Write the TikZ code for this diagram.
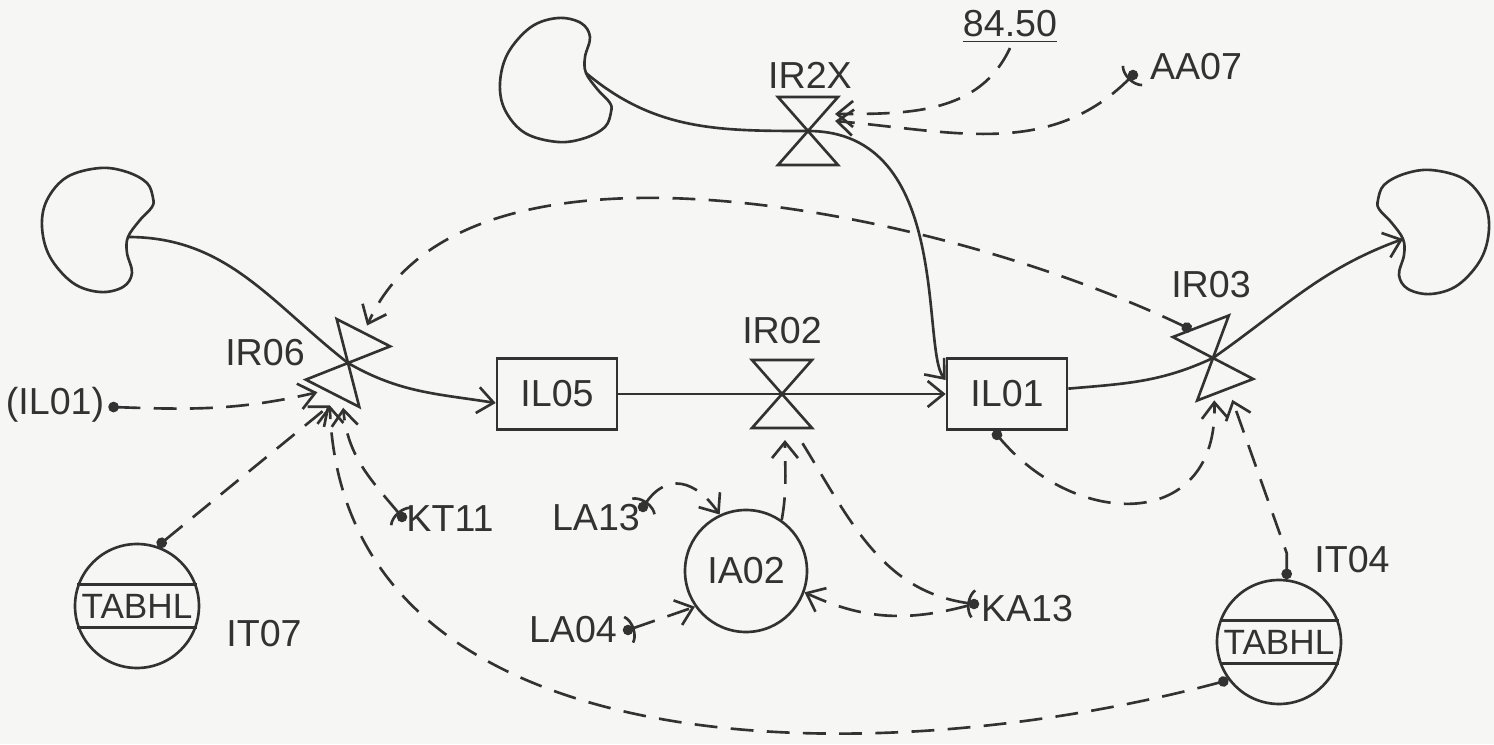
\documentclass[tikz,border=0pt]{standalone}
\usepackage{fontspec}
\setmainfont{Liberation Sans}
\usetikzlibrary{arrows.meta,positioning}
\definecolor{Ink}{RGB}{50,50,50}
\definecolor{Paper}{RGB}{246,246,244}
\tikzset{
  lbl/.style={font=\fontsize{10.7}{12}\selectfont,text=Ink,inner sep=1pt},
  level/.style={lbl,draw=Ink,line width=0.75pt,minimum width=1.2cm,minimum height=0.71cm},
  aux/.style={lbl,circle,draw=Ink,line width=0.75pt,minimum size=1.22cm,inner sep=0pt},
  tabhl/.style={aux,minimum size=1.24cm,font=\fontsize{10}{12}\selectfont},
  srcdot/.style={circle,fill=Ink,inner sep=0pt,minimum size=3pt},
  flow/.style={draw=Ink,line width=0.75pt,-{Straight Barb[length=1.6mm,width=2.6mm]}},
  info/.style={flow,dash pattern=on 6.5pt off 3.8pt},
  fromdot/.style={info,{Circle[length=3pt]}-{Straight Barb[length=1.6mm,width=2.6mm]}},
  fromconst/.style={info,{Parenthesis[reversed,width=3.4mm,length=1.1mm]}-{Straight Barb[length=1.6mm,width=2.6mm]}},
  valvesym/.pic={
    \draw[draw=Ink,line width=0.75pt] (-0.3,0.34) -- (0.3,0.34) -- (-0.3,-0.34) -- (0.3,-0.34) -- cycle;
    \coordinate (-c) at (0,0);
    \coordinate (-t) at (0,0.42);
    \coordinate (-tl) at (-0.1,0.34);
    \coordinate (-b) at (0.03,-0.46);
    \coordinate (-bl) at (-0.14,-0.4);
    \coordinate (-br) at (0.16,-0.42);
    \coordinate (-r) at (0.27,0.1);
    \coordinate (-rt) at (0.27,0.17);
  },
  cloudsym/.pic={
    \draw[draw=Ink,line width=0.75pt] plot[smooth cycle,tension=0.6] coordinates {(0.56,0.32) (0.5,0.47) (0.3,0.58) (0.03,0.62) (-0.3,0.53) (-0.5,0.3) (-0.55,0.03) (-0.47,-0.27) (-0.24,-0.53) (0.03,-0.62) (0.26,-0.57) (0.35,-0.43) (0.3,-0.23) (0.31,-0.07) (0.43,0.1) (0.55,0.23)};
    \coordinate (-n) at (0.31,-0.07);
  }
}

\begin{document}
\begin{tikzpicture}[x=1cm,y=1cm]
\fill[Paper] (0,0) rectangle (14.94,7.44);
\useasboundingbox (0,0) rectangle (14.94,7.44);

% sources and sinks
\pic (cl) at (0.97,5.14) {cloudsym};
\pic[yscale=-1] (ct) at (5.55,6.64) {cloudsym};
\pic[xscale=-1] (cr) at (14.34,5.12) {cloudsym};

% rates
\pic[rotate=-27] (ir06) at (3.48,3.81) {valvesym};
\pic (ir2x) at (8.08,6.13) {valvesym};
\pic (ir02) at (7.82,3.50) {valvesym};
\pic[rotate=21] (ir03) at (12.13,3.86) {valvesym};
\node[lbl] (ir06l) at (2.65,3.91) {IR06};
\node[lbl] (ir2xl) at (8.10,6.69) {IR2X};
\node[lbl] (ir02l) at (7.82,4.13) {IR02};
\node[lbl] (ir03l) at (12.11,4.59) {IR03};

% levels and auxiliaries
\node[level] (il05) at (5.57,3.50) {IL05};
\node[level] (il01) at (10.07,3.50) {IL01};
\node[aux] (ia02) at (7.46,1.73) {IA02};
\node[tabhl] (it07) at (1.37,1.38) {TABHL};
\node[tabhl] (it04) at (12.79,1.02) {TABHL};
\draw[Ink,line width=0.75pt] (it07.160) -- (it07.20) (it07.200) -- (it07.340);
\draw[Ink,line width=0.75pt] (it04.160) -- (it04.20) (it04.200) -- (it04.340);
\node[lbl] (it07l) at (2.64,1.10) {IT07};
\node[lbl] (it04l) at (13.52,1.84) {IT04};

% constants
\node[lbl] (il01ref) at (0.55,3.39) {(IL01)};
\node[lbl] (kt11) at (4.50,2.25) {KT11};
\node[lbl] (la13) at (5.96,2.26) {LA13};
\node[lbl] (la04) at (5.73,1.14) {LA04};
\node[lbl] (ka13) at (10.27,1.35) {KA13};
\node[lbl] (v8450) at (10.10,7.17) {\underline{84.50}};
\node[lbl] (aa07) at (11.96,6.77) {AA07};
\node[srcdot] (kt11m) at (4.02,2.27) {};
\node[srcdot] (la13m) at (6.43,2.37) {};
\node[srcdot] (la04m) at (6.28,1.14) {};
\node[srcdot] (ka13m) at (9.74,1.40) {};
\node[srcdot] (aa07m) at (11.33,6.69) {};

% flows
\draw[flow] (cl-n) to[out=0,in=142] (ir06-c) to[out=-30,in=171] ([yshift=-0.9mm]il05.west);
\draw[flow] (il05) -- (il01);
\draw[flow] (ct-n) to[out=-40,in=180] (ir2x-c) .. controls +(1.45,0) and +(-0.25,0.3) .. ([yshift=1.4mm]il01.west);
\draw[flow] (il01) to[out=5,in=205] (ir03-c) to[out=35,in=200] (cr-n);

% information links
\draw[fromdot] (ir03-tl) .. controls +(-2.42,1.16) and +(0.98,2.19) .. (ir06-t);
\draw[fromdot] (il01ref) to[out=-2,in=193] (ir06-bl);
\draw[fromdot] (it07.71) -- (ir06-b);
\draw[fromconst] (kt11m.center) to[out=130,in=-85] (ir06-br);
\draw[fromdot] (it04.217) to[out=195,in=-88] (ir06-b);
\draw[fromdot] (it04.83) -- ++(0,0.26) -- (ir03-b);
\draw[fromdot] (il01.250) to[out=-50,in=-88,looseness=1.5] (ir03-bl);
\draw[info] (ia02.55) to[out=80,in=-90] (ir02-b);
\draw[info,{Parenthesis[reversed,width=3.4mm,length=1.1mm]}-] (ka13m.center) to[out=172,in=-58] (ir02-br);
\draw[info] (ka13m) to[out=195,in=-25] (ia02.-20);
\draw[fromconst] (la13m.center) to[out=55,in=125,looseness=1.4] (ia02.115);
\draw[fromconst] (la04m.center) -- (ia02.215);
\draw[info] (v8450.south) to[out=245,in=0] (ir2x-rt);
\draw[fromconst] (aa07m.center) to[out=225,in=-5] (ir2x-r);
\end{tikzpicture}
\end{document}
